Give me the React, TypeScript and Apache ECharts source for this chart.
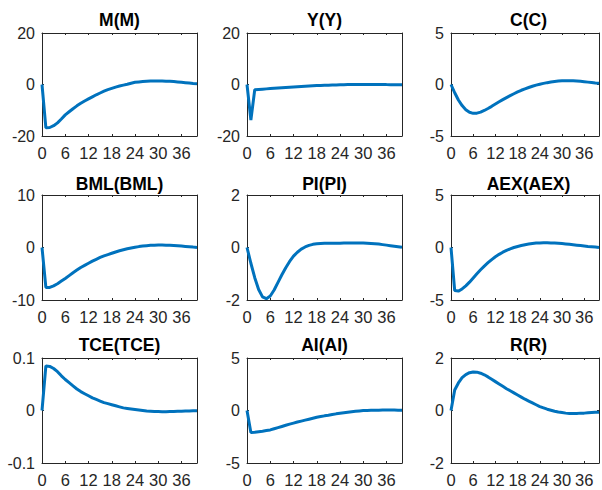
import React, { useEffect, useRef } from "react";
import * as echarts from "echarts";

const periods: number[] = Array.from({ length: 41 }, (_, i) => i);
const xTicks = [0, 6, 12, 18, 24, 30, 36];

const titles = ["M(M)", "Y(Y)", "C(C)", "BML(BML)", "PI(PI)", "AEX(AEX)", "TCE(TCE)", "AI(AI)", "R(R)"];
const yLimits: [number, number][] = [
  [-20, 20], [-20, 20], [-5, 5],
  [-10, 10], [-2, 2], [-5, 5],
  [-0.1, 0.1], [-5, 5], [-2, 2],
];

const M = [0, -16.8, -16.7, -16.0, -14.9, -13.4, -11.8, -10.6, -9.4, -8.3, -7.3, -6.4, -5.6, -4.8, -4.0, -3.3, -2.6, -2.0, -1.5, -1.0, -0.6, -0.25, 0.1, 0.5, 0.85, 1.0, 1.15, 1.25, 1.32, 1.36, 1.37, 1.35, 1.3, 1.22, 1.12, 1.0, 0.87, 0.72, 0.57, 0.4, 0.25];
const Y = [0, -13.8, -2.0, -1.9, -1.8, -1.7, -1.6, -1.5, -1.4, -1.3, -1.2, -1.1, -1.0, -0.9, -0.8, -0.7, -0.6, -0.5, -0.4, -0.35, -0.3, -0.25, -0.2, -0.15, -0.1, -0.06, -0.03, 0, 0.02, 0.03, 0.04, 0.04, 0.03, 0.02, 0, -0.02, -0.04, -0.05, -0.06, -0.06, -0.06];
const C = [0, -0.8, -1.5, -2.05, -2.45, -2.7, -2.8, -2.78, -2.68, -2.52, -2.33, -2.12, -1.9, -1.68, -1.47, -1.27, -1.08, -0.9, -0.72, -0.56, -0.42, -0.29, -0.17, -0.06, 0.03, 0.11, 0.18, 0.24, 0.29, 0.33, 0.36, 0.37, 0.37, 0.36, 0.34, 0.31, 0.27, 0.23, 0.19, 0.15, 0.12];
const BML = [0, -7.6, -7.6, -7.3, -6.9, -6.4, -5.9, -5.35, -4.8, -4.3, -3.8, -3.4, -3.0, -2.6, -2.25, -1.9, -1.6, -1.35, -1.1, -0.85, -0.63, -0.43, -0.25, -0.1, 0.05, 0.17, 0.27, 0.35, 0.41, 0.45, 0.47, 0.47, 0.45, 0.42, 0.38, 0.33, 0.27, 0.21, 0.15, 0.08, 0.02];
const PI = [0, -0.6, -1.15, -1.6, -1.88, -1.95, -1.85, -1.62, -1.33, -1.04, -0.77, -0.53, -0.33, -0.18, -0.06, 0.02, 0.08, 0.12, 0.14, 0.15, 0.16, 0.16, 0.16, 0.16, 0.16, 0.17, 0.17, 0.17, 0.17, 0.17, 0.17, 0.16, 0.15, 0.14, 0.13, 0.11, 0.09, 0.07, 0.05, 0.03, 0.01];
const AEX = [0, -4.1, -4.15, -3.95, -3.65, -3.3, -2.9, -2.5, -2.12, -1.77, -1.45, -1.15, -0.88, -0.65, -0.45, -0.28, -0.13, 0.0, 0.1, 0.19, 0.27, 0.33, 0.38, 0.42, 0.44, 0.45, 0.45, 0.44, 0.42, 0.4, 0.37, 0.34, 0.3, 0.26, 0.22, 0.18, 0.14, 0.1, 0.07, 0.04, 0.01];
const TCE = [0, 0.085, 0.084, 0.08, 0.074, 0.066, 0.059, 0.053, 0.047, 0.041, 0.036, 0.032, 0.028, 0.024, 0.021, 0.018, 0.015, 0.013, 0.011, 0.009, 0.007, 0.005, 0.004, 0.003, 0.002, 0.001, 0, -0.001, -0.0015, -0.002, -0.002, -0.0022, -0.0022, -0.002, -0.0018, -0.0015, -0.0012, -0.001, -0.0008, -0.0005, -0.0003];
const AI = [0, -2.1, -2.07, -2.02, -1.97, -1.91, -1.85, -1.74, -1.63, -1.52, -1.41, -1.3, -1.2, -1.1, -1.01, -0.92, -0.83, -0.74, -0.65, -0.58, -0.51, -0.45, -0.38, -0.32, -0.27, -0.22, -0.17, -0.12, -0.08, -0.04, -0.01, 0.01, 0.02, 0.03, 0.03, 0.04, 0.04, 0.04, 0.04, 0.03, 0.03];
const R = [0, 0.78, 1.05, 1.25, 1.37, 1.44, 1.47, 1.46, 1.42, 1.36, 1.28, 1.19, 1.1, 1.01, 0.92, 0.83, 0.75, 0.67, 0.59, 0.51, 0.43, 0.36, 0.29, 0.22, 0.15, 0.1, 0.05, 0.01, -0.03, -0.06, -0.08, -0.1, -0.11, -0.11, -0.11, -0.1, -0.1, -0.09, -0.08, -0.07, -0.07];

const seriesData = [M, Y, C, BML, PI, AEX, TCE, AI, R];

const colLeft = [42, 247, 451];
const rowTop = [33, 195, 358];
const rowHeight = [103, 105, 105];
const plotWidth = 155;
const titleCenterY = [20, 184, 345];

const FONT = "Liberation Sans, Arial, Helvetica, sans-serif";
const AX = "#262626";

export default function App() {
  const ref = useRef<HTMLDivElement>(null);
  useEffect(() => {
    if (!ref.current) return;
    const chart = echarts.init(ref.current, null, { renderer: "svg" });
    const grids: any[] = [];
    const xAxes: any[] = [];
    const yAxes: any[] = [];
    const series: any[] = [];
    const title: any[] = [];
    titles.forEach((t, i) => {
      const r = Math.floor(i / 3);
      const c = i % 3;
      grids.push({ left: colLeft[c], top: rowTop[r], width: plotWidth, height: rowHeight[r], containLabel: false });
      const [ymin, ymax] = yLimits[i];
      const common = {
        gridIndex: i,
        axisLine: { show: true, onZero: false, lineStyle: { color: AX, width: 1 } },
        axisTick: { show: true, inside: true, length: 2, lineStyle: { color: AX } },
        splitLine: { show: false },
      };
      xAxes.push({
        ...common,
        type: "value",
        position: "bottom",
        min: 0,
        max: 40,
        interval: 6,
        axisLabel: {
          show: true,
          margin: 8,
          color: AX,
          fontSize: 16.5,
          fontFamily: FONT,
          formatter: (v: number) => (xTicks.includes(v) ? String(v) : ""),
        },
      });
      xAxes.push({
        ...common,
        type: "value",
        position: "top",
        min: 0,
        max: 40,
        interval: 6,
        axisLabel: { show: false },
      });
      yAxes.push({
        ...common,
        type: "value",
        position: "left",
        min: ymin,
        max: ymax,
        interval: ymax,
        axisLabel: { show: true, margin: 7, color: AX, fontSize: 16, fontFamily: FONT },
      });
      yAxes.push({
        ...common,
        type: "value",
        position: "right",
        min: ymin,
        max: ymax,
        interval: ymax,
        axisLabel: { show: false },
      });
      series.push({
        type: "line",
        xAxisIndex: 2 * i,
        yAxisIndex: 2 * i,
        data: periods.map((p, k) => [p, seriesData[i][k]]),
        showSymbol: false,
        symbol: "none",
        lineStyle: { color: "#0072BD", width: 3 },
        clip: true,
      });
      title.push({
        text: t,
        left: colLeft[c] + plotWidth / 2,
        top: titleCenterY[r] - 9,
        textAlign: "center",
        padding: 0,
        textStyle: { fontSize: 17.5, fontWeight: "bold", color: "#000", fontFamily: FONT, lineHeight: 18 },
      });
    });
    chart.setOption({
      animation: false,
      backgroundColor: "#fff",
      title,
      grid: grids,
      xAxis: xAxes,
      yAxis: yAxes,
      series,
    });
    return () => chart.dispose();
  }, []);
  return <div ref={ref} style={{ position: "fixed", left: 0, top: 0, width: 602, height: 490 }} />;
}
